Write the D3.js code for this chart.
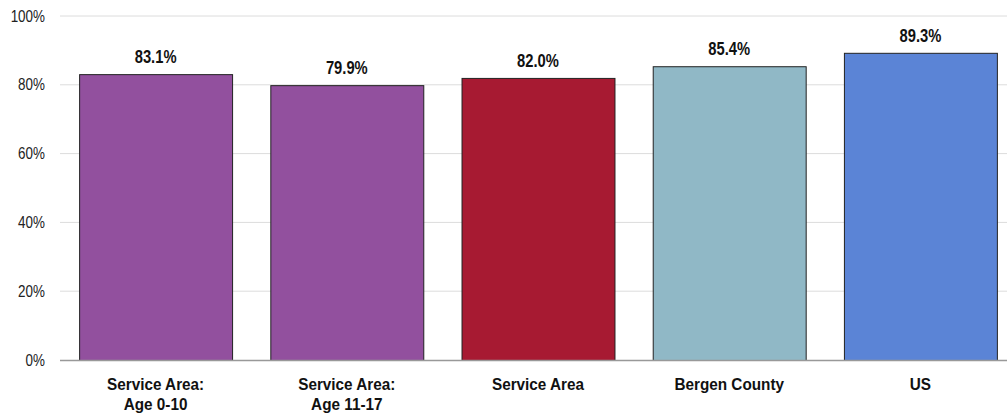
<!DOCTYPE html>
<html><head><meta charset="utf-8">
<script src="https://cdn.jsdelivr.net/npm/d3@7"></script>
<style>body{margin:0;background:#fff}svg{display:block}</style>
</head><body>
<svg id="c" width="1007" height="418"></svg>
<script>
const categories = [["Service Area:","Age 0-10"],["Service Area:","Age 11-17"],["Service Area"],["Bergen County"],["US"]];
const values = [83.1, 79.9, 82.0, 85.4, 89.3];
const colors = ["#92509E","#92509E","#A71A32","#90B8C6","#5B84D6"];
const ticks = [0,20,40,60,80,100];

const svg = d3.select("#c");
const font = "'Liberation Sans',Arial,sans-serif";
const x = d3.scaleBand().domain(d3.range(values.length)).range([60,1016]).paddingInner(0.2).paddingOuter(0.1);
const y = d3.scaleLinear().domain([0,100]).range([360,16]);

svg.append("g").selectAll("line").data(ticks.filter(t=>t>0)).join("line")
  .attr("x1",60).attr("x2",1007).attr("y1",d=>y(d)).attr("y2",d=>y(d))
  .attr("stroke","#dcdcdc").attr("stroke-width",1);

svg.append("g").selectAll("text").data(ticks).join("text")
  .attr("transform",d=>`translate(45,${y(d)}) scale(0.84,1)`)
  .attr("dy","0.35em").attr("text-anchor","end")
  .attr("font-family",font).attr("font-size",16).attr("fill","#222")
  .text(d=>d+"%");

svg.append("g").selectAll("rect").data(values).join("rect")
  .attr("x",(d,i)=>x(i)+0.5).attr("y",d=>y(d)+0.5)
  .attr("width",x.bandwidth()).attr("height",d=>y(0)-y(d))
  .attr("fill",(d,i)=>colors[i]).attr("stroke","#222").attr("stroke-width",1);

svg.append("line").attr("x1",60).attr("x2",1007).attr("y1",360.5).attr("y2",360.5)
  .attr("stroke","#999").attr("stroke-width",1.5);

svg.append("g").selectAll("text").data(values).join("text")
  .attr("transform",(d,i)=>`translate(${x(i)+x.bandwidth()/2},${y(d)-11}) scale(0.82,1)`)
  .attr("text-anchor","middle").attr("font-family",font).attr("font-weight","bold")
  .attr("font-size",18).attr("fill","#111")
  .text(d=>d.toFixed(1)+"%");

const cat = svg.append("g").selectAll("text").data(categories).join("text")
  .attr("transform",(d,i)=>`translate(${x(i)+x.bandwidth()/2},390) scale(0.9,1)`)
  .attr("text-anchor","middle").attr("font-family",font).attr("font-weight","bold")
  .attr("font-size",17).attr("fill","#111");
cat.selectAll("tspan").data(d=>d).join("tspan")
  .attr("x",0).attr("dy",(d,j)=>j===0?0:20).text(d=>d);
</script>
</body></html>
